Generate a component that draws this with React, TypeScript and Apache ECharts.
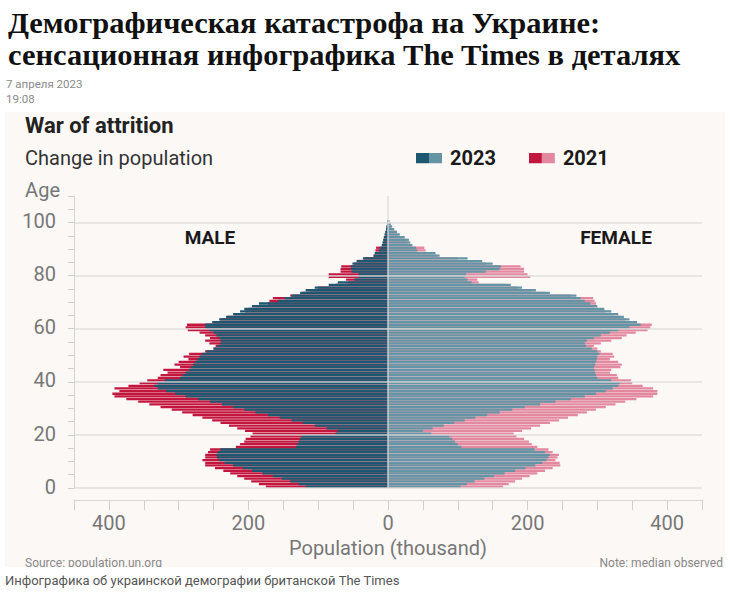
import React, { useEffect, useRef } from 'react';
import * as echarts from 'echarts';

// Age categories (one band per year of age, axis runs to 110)
const AGE_CATEGORIES: string[] = Array.from({ length: 110 }, (_, i) => String(i));

// Population in thousands, ages 0..100
const MALE_2023 = [
  118, 128, 140, 152, 165, 180, 195, 208, 222, 234,
  242, 245, 246, 244, 240, 132, 130, 128, 126, 124,
  75, 72, 88, 105, 122, 138, 155, 172, 190, 206,
  222, 238, 255, 272, 290, 305, 318, 330, 335, 330,
  320, 298, 294, 290, 285, 282, 279, 276, 273, 270,
  266, 260, 250, 244, 240, 240, 242, 246, 250, 256,
  262, 262, 252, 242, 232, 222, 212, 206, 195, 185,
  158, 148, 138, 126, 118, 105, 85, 72, 48, 42,
  42, 52, 53, 53, 51, 45, 36, 21, 19, 13,
  11, 9, 8, 7, 6, 5, 4, 3, 2.5, 1.5, 1,
];
const MALE_2021 = [
  175, 185, 196, 206, 216, 226, 236, 248, 262, 262,
  266, 262, 262, 258, 255, 218, 212, 206, 204, 197,
  194, 205, 216, 228, 240, 252, 266, 280, 295, 310,
  326, 342, 358, 375, 392, 395, 385, 392, 372, 356,
  345, 330, 326, 316, 322, 298, 306, 300, 286, 293,
  285, 262, 250, 247, 256, 262, 255, 262, 270, 287,
  290, 288, 250, 240, 230, 220, 205, 200, 190, 172,
  170, 165, 140, 122, 112, 100, 75, 57, 60, 85,
  85, 68, 68, 67, 48, 42, 34, 20, 18, 18,
  17, 8, 7, 6, 5, 4, 3, 2.5, 2, 1, 0.5,
];
const FEMALE_2023 = [
  104, 113, 124, 138, 152, 167, 182, 197, 211, 221,
  227, 230, 232, 225, 210, 105, 100, 96, 92, 88,
  62, 50, 64, 80, 95, 110, 125, 142, 160, 178,
  196, 218, 240, 262, 282, 298, 312, 322, 330, 332,
  320, 300, 298, 297, 296, 295, 297, 298, 299, 300,
  303, 300, 292, 284, 282, 285, 295, 305, 318, 330,
  346, 362, 357, 346, 338, 330, 320, 310, 300, 290,
  282, 276, 270, 232, 212, 192, 176, 120, 114, 110,
  112, 140, 160, 162, 150, 135, 114, 74, 68, 42,
  40, 35, 32, 30, 24, 17, 13, 9, 6, 4, 2,
];
const FEMALE_2021 = [
  165, 173, 182, 192, 203, 214, 225, 236, 247, 246,
  240, 243, 245, 236, 230, 214, 206, 202, 195, 184,
  180, 192, 205, 218, 232, 245, 258, 272, 285, 298,
  312, 326, 340, 356, 380, 386, 386, 380, 365, 350,
  348, 330, 328, 318, 320, 333, 335, 330, 318, 324,
  322, 305, 300, 295, 305, 320, 335, 342, 355, 372,
  376, 378, 350, 340, 332, 322, 312, 300, 296, 298,
  296, 294, 262, 225, 205, 185, 170, 130, 128, 204,
  200, 195, 195, 190, 140, 125, 100, 70, 55, 54,
  52, 30, 28, 25, 20, 15, 11, 8, 5, 3, 1,
];

const X_TICK_LABELS = [400, 200, 0, 200, 400];

const C_M23 = '#1e5870';
const C_F23 = '#6594a5';
const C_M21 = '#c3163f';
const C_F21 = '#e2889f';

const SANS = 'Roboto, "Noto Sans", sans-serif';
const SERIF = '"Liberation Serif", "DejaVu Serif", serif';
const GRID_COLOR = 'rgba(218,218,218,0.85)';

const HEADING_1 = 'Демографическая катастрофа на Украине:';
const HEADING_2 = 'сенсационная инфографика The Times в деталях';
const DATE = '7 апреля 2023';
const TIME = '19:08';

const swatch = (a: string, b: string) =>
  'image://data:image/svg+xml;charset=utf-8,' +
  encodeURIComponent(
    `<svg xmlns="http://www.w3.org/2000/svg" width="26" height="11"><rect width="13" height="11" fill="${a}"/><rect x="13" width="13" height="11" fill="${b}"/></svg>`
  );

export default function App() {
  const ref = useRef<HTMLDivElement>(null);
  useEffect(() => {
    const chart = echarts.init(ref.current!, null, { renderer: 'svg' });
    const neg = (arr: number[]) => arr.map((v) => -v);
    const barCommon = {
      type: 'bar',
      barGap: '-100%',
      barCategoryGap: '14%',
      silent: true,
    };
    const headingStyle = {
      fontFamily: SERIF,
      fontSize: 28.5,
      fontWeight: 'bold',
      fill: '#111',
      verticalAlign: 'middle',
    };
    chart.setOption({
      animation: false,
      backgroundColor: '#ffffff',
      title: {
        text: 'War of attrition',
        subtext: 'Change in population',
        left: 25,
        top: 114,
        padding: 0,
        itemGap: 12,
        textStyle: { fontFamily: SANS, fontSize: 22, fontWeight: 'bold', color: '#222' },
        subtextStyle: { fontFamily: SANS, fontSize: 20, color: '#333' },
      },
      legend: {
        left: 416,
        top: 148,
        padding: 0,
        itemWidth: 26,
        itemHeight: 11,
        itemGap: 33,
        selectedMode: false,
        textStyle: { fontFamily: SANS, fontSize: 20, fontWeight: 'bold', color: '#1a1a1a', padding: [0, 0, 0, 3] },
        data: [
          { name: '2023', icon: swatch(C_M23, C_F23) },
          { name: '2021', icon: swatch(C_M21, C_F21) },
        ],
      },
      grid: { left: 74, right: 28, top: 196, bottom: 110 },
      xAxis: {
        type: 'value',
        min: -450,
        max: 450,
        interval: 50,
        offset: 12,
        axisLine: { show: true, onZero: false, lineStyle: { color: '#d4d4d4', width: 1 } },
        axisTick: { show: true, length: 10, lineStyle: { color: '#cfcfcf', width: 1 } },
        splitLine: { show: false },
        axisLabel: {
          margin: 13,
          fontFamily: SANS,
          fontSize: 20,
          color: '#777',
          formatter: (v: number) => {
            const a = Math.abs(v);
            return v % 200 === 0 && X_TICK_LABELS.includes(a) ? String(a) : '';
          },
        },
        name: 'Population (thousand)',
        nameLocation: 'middle',
        nameGap: 38,
        nameTextStyle: { fontFamily: SANS, fontSize: 20, color: '#777' },
      },
      yAxis: {
        type: 'category',
        data: AGE_CATEGORIES,
        boundaryGap: true,
        position: 'left',
        z: 5,
        axisLine: { show: true, onZero: false, lineStyle: { color: '#d4d4d4', width: 1 } },
        axisTick: {
          show: true,
          length: 6,
          interval: (i: number) => i % 5 === 0,
          lineStyle: { color: '#cfcfcf', width: 1 },
        },
        axisLabel: {
          margin: 18,
          fontFamily: SANS,
          fontSize: 20,
          color: '#777',
          interval: (i: number) => i % 20 === 0 && i <= 100,
        },
        splitLine: {
          show: true,
          interval: (i: number) => i % 20 === 0 && i <= 100,
          showMaxLine: false,
          lineStyle: { color: GRID_COLOR, width: 1.5 },
        },
        name: 'Age',
        nameLocation: 'end',
        nameGap: 6,
        nameTextStyle: {
          fontFamily: SANS,
          fontSize: 20,
          color: '#777',
          align: 'right',
          verticalAlign: 'middle',
          padding: [0, 14, 0, 0],
        },
      },
      series: [
        { ...barCommon, name: '2021', data: neg(MALE_2021), itemStyle: { color: C_M21 } },
        { ...barCommon, name: '2021', data: FEMALE_2021, itemStyle: { color: C_F21 } },
        { ...barCommon, name: '2023', data: neg(MALE_2023), itemStyle: { color: C_M23 } },
        {
          ...barCommon,
          name: '2023',
          data: FEMALE_2023,
          itemStyle: { color: C_F23 },
          markLine: {
            silent: true,
            symbol: ['none', 'none'],
            label: { show: false },
            lineStyle: { color: GRID_COLOR, width: 1.5, type: 'solid' },
            data: [{ xAxis: 0 }],
          },
        },
      ],
      graphic: [
        {
          type: 'rect',
          z: -10,
          shape: { x: 5, y: 112, width: 720, height: 456 },
          style: { fill: '#fcf8f6' },
        },
        {
          type: 'text',
          x: 8,
          y: 23,
          scaleX: 1.07,
          style: { ...headingStyle, text: HEADING_1 },
        },
        {
          type: 'text',
          x: 8,
          y: 55.5,
          scaleX: 1.07,
          style: { ...headingStyle, text: HEADING_2 },
        },
        {
          type: 'text',
          x: 6,
          y: 84,
          style: { text: DATE, fontFamily: SANS, fontSize: 11.5, fill: '#8a8a8a', verticalAlign: 'middle' },
        },
        {
          type: 'text',
          x: 6,
          y: 98.5,
          style: { text: TIME, fontFamily: SANS, fontSize: 11.5, fill: '#8a8a8a', verticalAlign: 'middle' },
        },
        {
          type: 'text',
          x: 210,
          y: 237,
          z: 10,
          style: { text: 'MALE', fontFamily: SANS, fontSize: 19, fontWeight: 'bold', fill: '#1a1a1a', align: 'center', verticalAlign: 'middle' },
        },
        {
          type: 'text',
          x: 616,
          y: 237,
          z: 10,
          style: { text: 'FEMALE', fontFamily: SANS, fontSize: 19, fontWeight: 'bold', fill: '#1a1a1a', align: 'center', verticalAlign: 'middle' },
        },
        {
          type: 'text',
          x: 25,
          y: 563,
          z: 1,
          style: { text: 'Source: population.un.org', fontFamily: SANS, fontSize: 12, fill: '#888', verticalAlign: 'middle' },
        },
        {
          type: 'text',
          x: 723,
          y: 563,
          z: 1,
          style: { text: 'Note: median observed', fontFamily: SANS, fontSize: 12, fill: '#888', align: 'right', verticalAlign: 'middle' },
        },
        {
          type: 'rect',
          z: 50,
          shape: { x: 0, y: 567, width: 730, height: 31 },
          style: { fill: '#ffffff' },
        },
        {
          type: 'text',
          x: 5,
          y: 580,
          z: 60,
          style: {
            text: 'Инфографика об украинской демографии британской The Times',
            fontFamily: SANS,
            fontSize: 13,
            fill: '#555',
            verticalAlign: 'middle',
          },
        },
      ],
    });
    return () => chart.dispose();
  }, []);
  return <div ref={ref} style={{ position: 'absolute', left: 0, top: 0, width: 730, height: 598 }} />;
}
